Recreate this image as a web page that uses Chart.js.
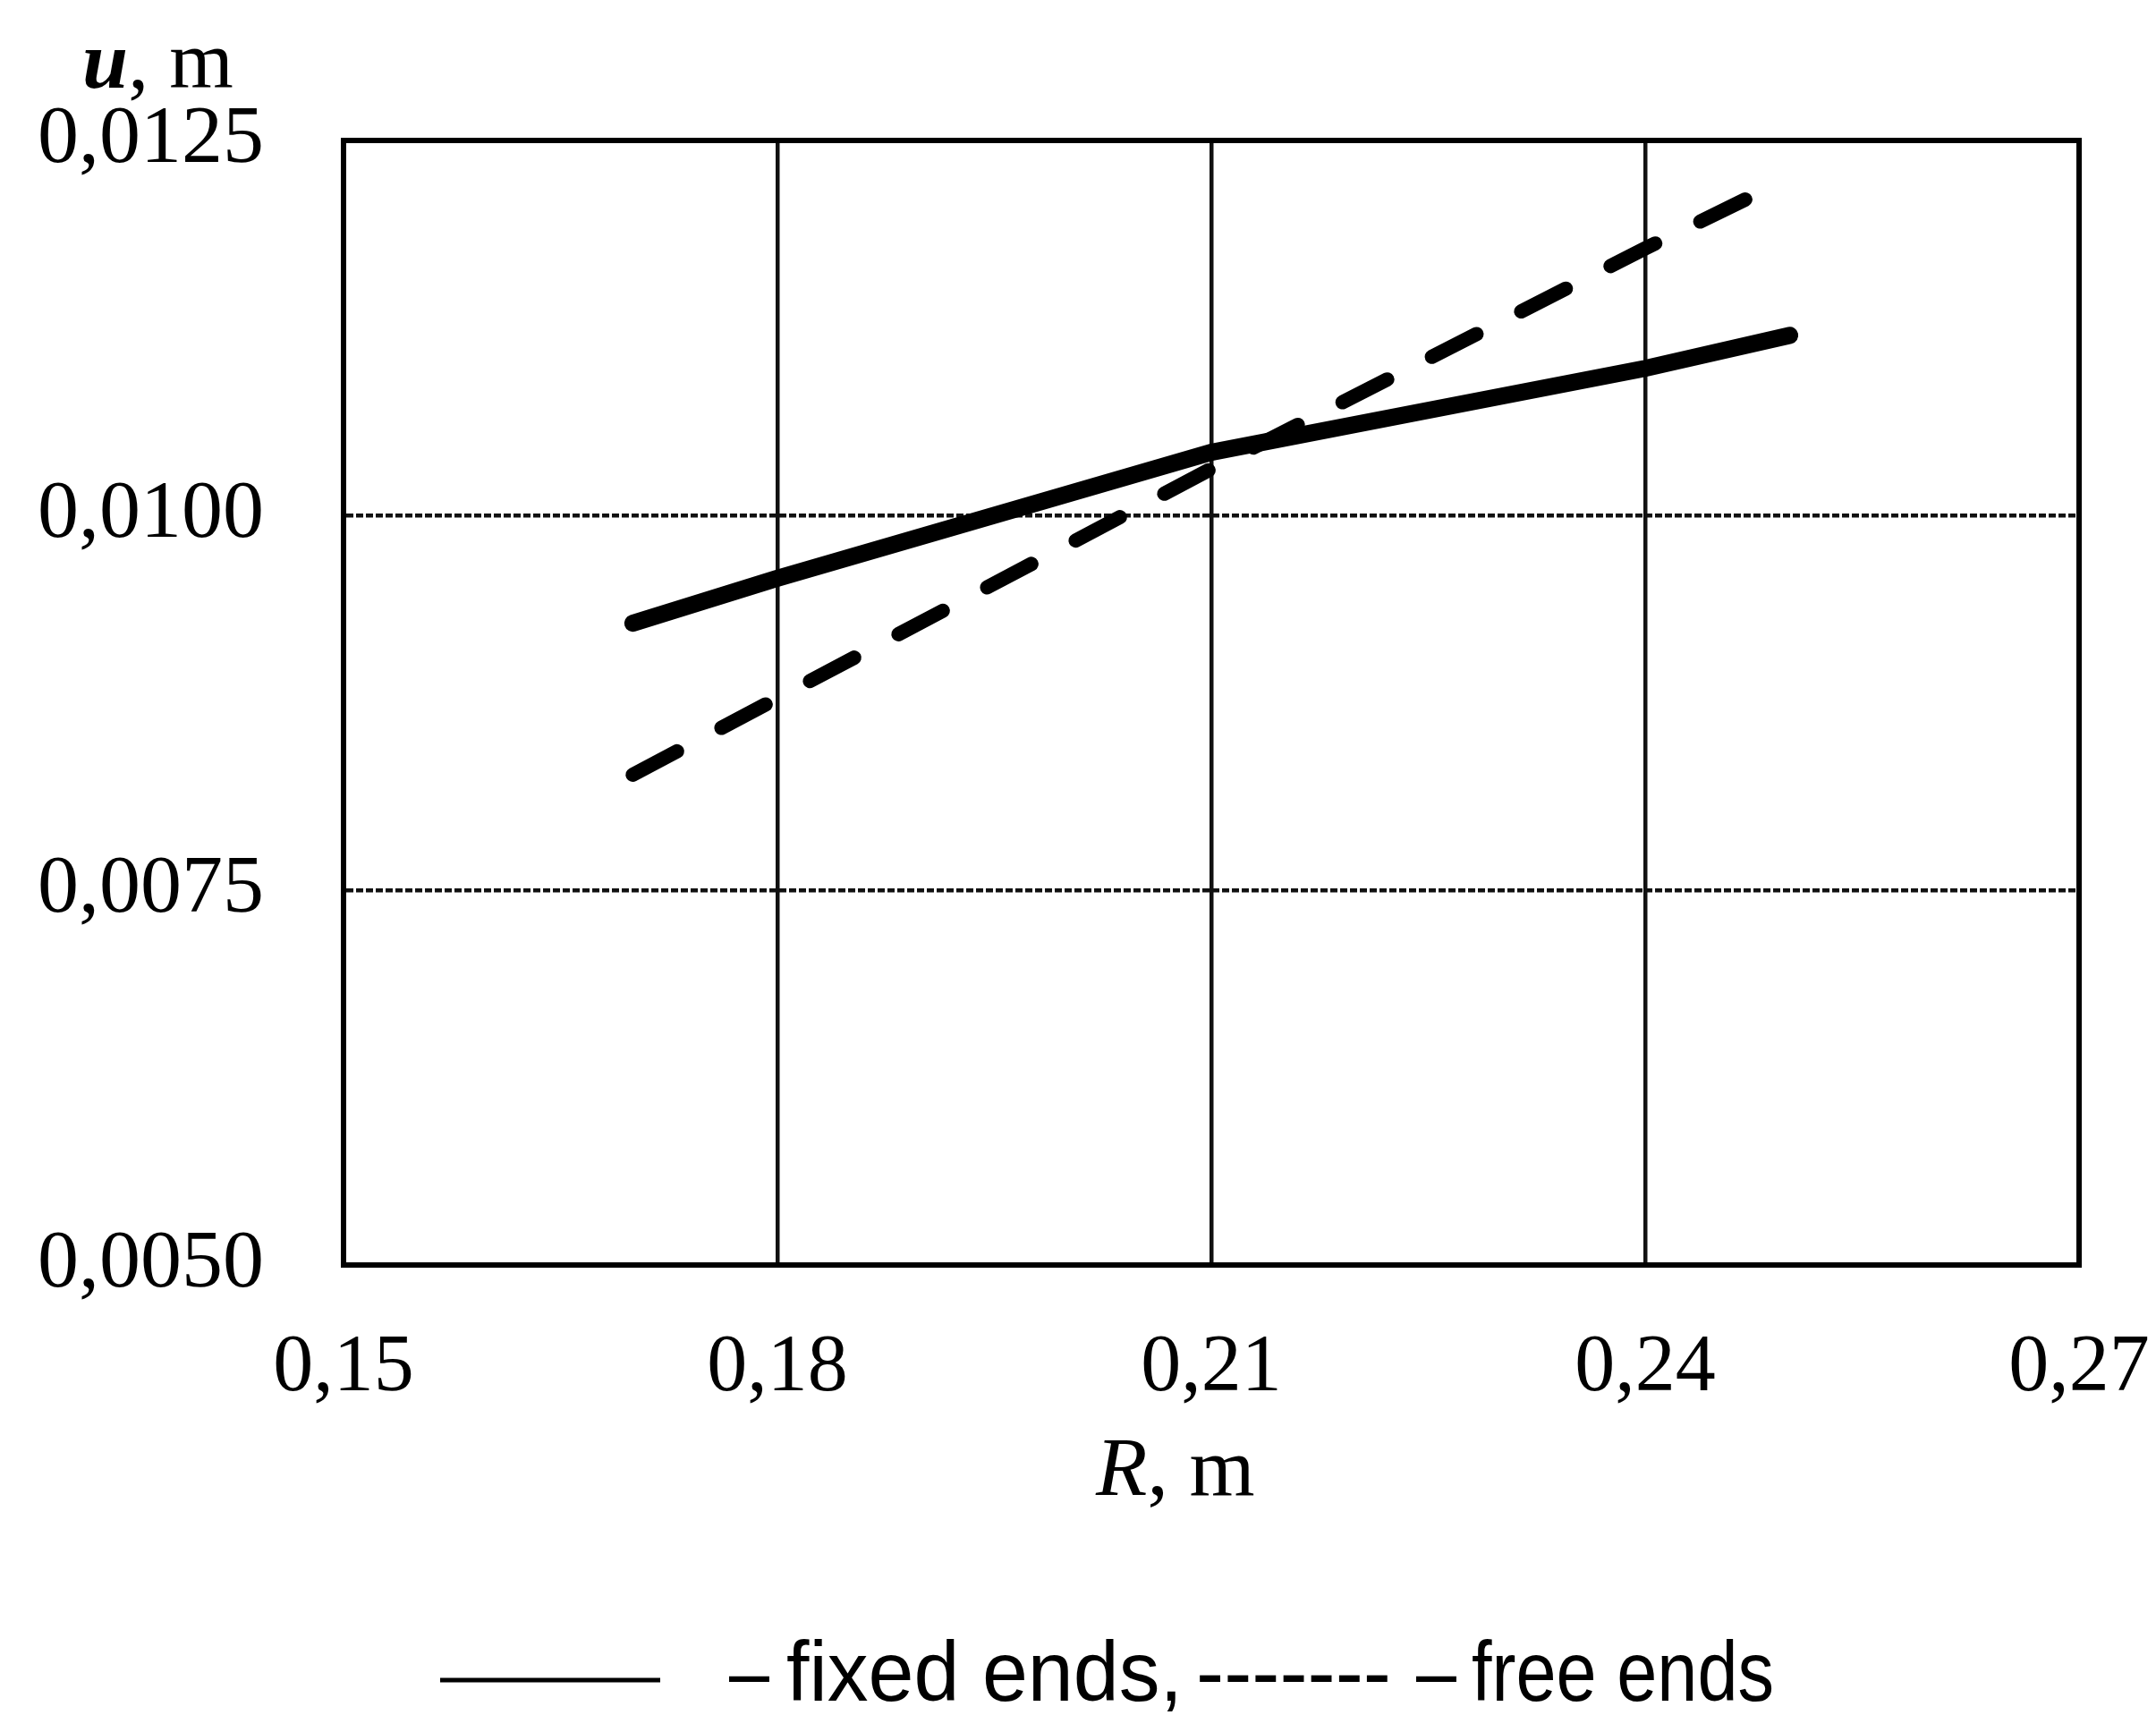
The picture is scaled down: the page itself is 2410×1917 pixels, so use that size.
<!DOCTYPE html>
<html>
<head>
<meta charset="utf-8">
<script src="https://cdn.jsdelivr.net/npm/chart.js@4/dist/chart.umd.min.js"></script>
<style>
  html, body { margin: 0; padding: 0; background: #fff; }
  #wrap { position: relative; width: 2410px; height: 1917px; }
</style>
</head>
<body>
<div id="wrap"><canvas id="uChart"></canvas></div>
<script>
/* --------------------- DATA -------------------- */
const fixedR = [0.17, 0.18, 0.21, 0.24, 0.25];
const fixedEnds = [0.00928, 0.00958, 0.01042, 0.01098, 0.0112];

const freeR = [0.17, 0.18, 0.21, 0.24, 0.247];
const freeEnds = [0.00827, 0.00878, 0.01031, 0.01178, 0.01211];

const xTicks = [0.15, 0.18, 0.21, 0.24, 0.27];
const yTicks = [0.005, 0.0075, 0.01, 0.0125];

/* --------------------- UTILITIES ----------------------- */
function toPoints(xs, ys) {
  return xs.map((x, i) => ({ x: x, y: ys[i] }));
}

function commaNum(v, digits) {
  return v.toFixed(digits).replace(".", ",");
}

// draw text squeezed/stretched to a given width
function fitText(ctx, txt, x, y, width) {
  const w = ctx.measureText(txt).width;
  ctx.save();
  ctx.translate(x, y);
  ctx.scale(width / w, 1);
  ctx.fillText(txt, 0, 0);
  ctx.restore();
}

const SERIF = "'Liberation Serif', 'Times New Roman', serif";
const SANS = "'Liberation Sans', Arial, sans-serif";

/* --------------------- TEXT + FRAME PLUGIN ----------------------- */
const paperBits = {
  id: "paperBits",
  afterDraw(chart) {
    const ctx = chart.ctx;
    const a = chart.chartArea;
    ctx.save();

    // frame
    ctx.strokeStyle = "#000";
    ctx.lineWidth = 6;
    ctx.strokeRect(a.left, a.top, a.right - a.left, a.bottom - a.top);

    ctx.fillStyle = "#000";
    ctx.textBaseline = "alphabetic";
    ctx.textAlign = "left";

    // y title  "u, m"
    ctx.font = "italic bold 92px " + SERIF;
    ctx.fillText("u", 92, 98);
    let w = ctx.measureText("u").width;
    ctx.font = "92px " + SERIF;
    ctx.fillText(", m", 92 + w, 98);

    // x title  "R, m"
    ctx.font = "italic 94px " + SERIF;
    ctx.fillText("R", 1225, 1671);
    w = ctx.measureText("R").width;
    ctx.font = "94px " + SERIF;
    ctx.fillText(", m", 1225 + w, 1671);

    // legend
    ctx.lineWidth = 5;
    ctx.beginPath();
    ctx.moveTo(492, 1878);
    ctx.lineTo(738, 1878);
    ctx.stroke();
    ctx.font = "95px " + SANS;
    fitText(ctx, "\u2013", 815, 1901, 45);
    fitText(ctx, "fixed ends,", 879, 1901, 443);
    fitText(ctx, "-------", 1337, 1901, 218);
    fitText(ctx, "\u2013", 1583, 1901, 45);
    fitText(ctx, "free ends", 1645, 1901, 338);

    ctx.restore();
  }
};

/* --------------------- CHART ----------------------- */
new Chart(document.getElementById("uChart"), {
  type: "line",
  data: {
    datasets: [
      {
        label: "fixed ends",
        data: toPoints(fixedR, fixedEnds),
        borderColor: "#000",
        borderWidth: 19,
        borderCapStyle: "round",
        pointRadius: 0,
        tension: 0
      },
      {
        label: "free ends",
        data: toPoints(freeR, freeEnds),
        borderColor: "#000",
        borderWidth: 16,
        borderDash: [56, 56],
        borderCapStyle: "round",
        pointRadius: 0,
        tension: 0
      }
    ]
  },
  options: {
    responsive: true,
    maintainAspectRatio: false,
    animation: false,
    layout: { padding: { left: 0, right: 86, top: 157, bottom: 0 } },
    plugins: { legend: { display: false }, tooltip: { enabled: false } },
    scales: {
      x: {
        type: "linear",
        min: xTicks[0],
        max: xTicks[xTicks.length - 1],
        afterBuildTicks: (s) => { s.ticks = xTicks.map((v) => ({ value: v })); },
        afterFit: (s) => {
          s.height = 1917 - 1414;
          s.paddingLeft = 0;
          s.paddingRight = 0;
        },
        grid: { color: "#111", lineWidth: 4.5, drawTicks: false, tickLength: 0 },
        border: { display: true, color: "#000", width: 6 },
        ticks: {
          padding: 62,
          color: "#000",
          font: { family: SERIF, size: 90 },
          maxRotation: 0,
          callback: (v) => commaNum(v, 2)
        }
      },
      y: {
        min: yTicks[0],
        max: yTicks[yTicks.length - 1],
        afterBuildTicks: (s) => { s.ticks = yTicks.map((v) => ({ value: v })); },
        afterFit: (s) => {
          s.width = 384;
          s.paddingTop = 0;
          s.paddingBottom = 0;
        },
        grid: { color: "#111", lineWidth: 4.5, drawTicks: false, tickLength: 0 },
        border: { display: true, color: "#000", width: 6, dash: [8, 3] },
        ticks: {
          padding: 89,
          color: "#000",
          font: { family: SERIF, size: 92 },
          callback: (v) => commaNum(v, 4)
        }
      }
    }
  },
  plugins: [paperBits]
});
</script>
</body>
</html>
